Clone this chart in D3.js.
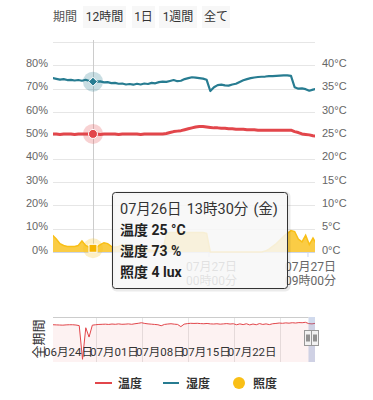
<!DOCTYPE html>
<html><head><meta charset="utf-8">
<script src="https://cdn.jsdelivr.net/npm/d3@7"></script>
<style>
html,body{margin:0;padding:0;background:#fff;}
svg{display:block;font-family:Roboto,"Noto Sans CJK JP",sans-serif;}
</style></head><body>
<svg id="c" width="373" height="400"></svg>
<script>
// ---------------- data ----------------
const rangeLabel = "期間";
const rangeButtons = ["12時間", "1日", "1週間", "全て"];
const navLabel = "全期間";
const seriesNames = ["温度", "湿度", "照度"];
const humidityTicks = [0, 10, 20, 30, 40, 50, 60, 70, 80, 90];
const tempTicks = [0, 5, 10, 15, 20, 25, 30, 35, 40, 45];
const weekdays = ["日", "月", "火", "水", "木", "金", "土"];

// 20-minute samples starting 2019-07-26 09:50
const temperature = [
  25.3,25.3,25.2,25.3,25.3,25.3,25.2,25.3,25.3,25.3,
  25.3,25.3,25.3,25.2,25.3,25.3,25.3,25.3,25.2,25.3,
  25.3,25.3,25.3,25.3,25.2,25.3,25.3,25.3,25.3,25.3,
  25.3,25.4,25.6,25.8,25.9,26.0,26.2,26.4,26.6,26.8,
  26.9,26.9,26.8,26.7,26.6,26.6,26.5,26.5,26.4,26.4,
  26.3,26.3,26.3,26.2,26.2,26.2,26.1,26.1,26.1,26.1,
  26.1,26.1,26.1,26.1,26.1,26.1,25.8,25.6,25.3,25.2,
  25.1,24.9,24.8
];
const humidity = [
  74.5,74.2,73.9,74.1,73.7,73.8,73.5,73.7,73.4,73.8,
  73.3,73.0,73.0,73.1,72.7,72.8,72.4,72.5,72.1,72.2,
  71.8,72.0,71.7,72.1,71.8,72.2,72.0,72.5,72.3,72.8,
  73.0,72.9,73.3,73.7,73.2,73.4,74.1,74.5,74.9,74.7,
  74.5,74.3,73.8,69.0,70.6,71.5,71.7,71.4,71.3,71.8,
  72.1,72.9,73.6,74.1,74.5,74.8,75.0,75.1,75.2,75.4,
  75.4,75.5,75.6,75.7,75.7,75.5,70.6,70.0,70.1,69.8,
  69.1,69.6,69.9
];
const illuminance = [
  18,14,9,7,6,6,6,7,12,7,
  5,4,5,8,10,9,6,5,6,8,
  7,5,6,5,4,5,3,2,1,1,
  0,20,21,21,21,21,21,21,21,21,
  21,21,20,0,0,0,0,0,0,0,
  0,0,0,0,0,0,0,0,1,3,
  6,9,13,17,20,23,22,14,11,18,
  8,15,8
];
// navigator: 12-hour samples starting 2019-06-17 10:40
const navTemperature = [
  24.6,24.5,24.4,24.3,24.5,24.6,24.6,24.4,24.0,0.5,
  22.5,16.0,24.3,24.6,24.8,24.9,25.0,24.8,25.1,24.9,
  25.2,24.9,25.0,25.2,24.9,25.3,25.6,26.0,25.5,25.2,
  25.0,24.8,24.6,23.9,24.8,25.1,25.3,25.0,24.8,23.3,
  25.0,25.4,25.6,25.5,25.6,25.4,25.3,25.5,25.2,25.1,
  25.3,25.0,25.2,25.4,25.1,25.3,24.6,25.2,24.7,25.3,
  24.5,25.1,24.6,25.4,24.8,25.2,24.7,25.3,25.5,25.8,
  25.6,25.9,25.7,26.0,25.8,26.1,26.0,26.3,25.4,25.2,
  25.6
];
const navTickDates = ["2019-06-24", "2019-07-01", "2019-07-08", "2019-07-15", "2019-07-22"];
const xTickTimes = ["2019-07-27T00:00", "2019-07-27T09:00"];
const hoverIndex = 11;

// ---------------- setup ----------------
const MIN = 60000;
const mainStart = new Date(2019, 6, 26, 9, 50);
const times = temperature.map((_, i) => new Date(+mainStart + i * 20 * MIN));
const navT0 = new Date(2019, 5, 17, 10, 40);
const navTimes = navTemperature.map((_, i) => new Date(+navT0 + i * 12 * 60 * MIN));

const colTemp = "#e2464b", colHum = "#277c91", colLux = "#f9bf16";
const L = 53, R = 315, TOP = 42, BOT = 252;

const svg = d3.select("#c");
const x = d3.scaleTime().domain([new Date(2019, 6, 26, 9, 52), new Date(2019, 6, 27, 9, 41)]).range([L, R]);
const yHum = d3.scaleLinear().domain([0, 90]).range([BOT, TOP]);
const yTemp = d3.scaleLinear().domain([0, 45]).range([BOT, TOP]);
const yLux = d3.scaleLinear().domain([0, 100]).range([BOT, 159]);

const defs = svg.append("defs");
defs.append("clipPath").attr("id", "plotClip").append("rect")
  .attr("x", L).attr("y", 20).attr("width", R - L).attr("height", BOT - 20 + 1);
defs.append("clipPath").attr("id", "navClip").append("rect")
  .attr("x", L).attr("y", 317).attr("width", R - L).attr("height", 45);

// ---------------- range selector ----------------
svg.append("text").attr("x", 53).attr("y", 21).attr("font-size", 12).attr("fill", "#555").text(rangeLabel);
const btnLayout = [[83, 43], [132, 23], [159, 38], [202, 28]];
rangeButtons.forEach((b, i) => {
  const [bx, bw] = btnLayout[i];
  svg.append("rect").attr("x", bx).attr("y", 6).attr("width", bw).attr("height", 22).attr("fill", "#f7f7f7");
  svg.append("text").attr("x", bx + bw / 2).attr("y", 21).attr("text-anchor", "middle")
    .attr("font-size", 12).attr("fill", "#333").text(b);
});

// ---------------- grid ----------------
const grid = svg.append("g");
grid.selectAll("line").data(humidityTicks).join("line")
  .attr("x1", L).attr("x2", R)
  .attr("y1", d => Math.round(yHum(d)) + 0.5).attr("y2", d => Math.round(yHum(d)) + 0.5)
  .attr("stroke", "#e6e6e6");

// left axis
const axL = svg.append("g").attr("transform", `translate(${L},0)`)
  .call(d3.axisLeft(yHum).tickValues(humidityTicks.slice(0, -1)).tickFormat(d => d + "%").tickSize(0).tickPadding(5));
axL.select(".domain").remove();
axL.selectAll("text").attr("font-size", 11).attr("fill", "#666").attr("font-family", null).attr("y", -2.5);

const axR = svg.append("g").attr("transform", `translate(${R},0)`)
  .call(d3.axisRight(yTemp).tickValues(tempTicks.slice(0, -1)).tickFormat(d => d + "°C").tickSize(0).tickPadding(7));
axR.select(".domain").remove();
axR.selectAll("text").attr("font-size", 11).attr("fill", "#666").attr("font-family", null).attr("y", -2.5);

// x axis line + ticks
const xTicks = xTickTimes.map(s => new Date(s));
const axB = svg.append("g").attr("transform", `translate(0,${BOT})`)
  .call(d3.axisBottom(x).tickValues(xTicks).tickSize(5).tickFormat(""));
axB.select(".domain").attr("stroke", "#ccd6eb").attr("d", `M${L},0.5H${R}`);
axB.selectAll(".tick line").attr("stroke", "#ccd6eb");

// x labels
const fmtD = d3.timeFormat("%m月%d日"), fmtT = d3.timeFormat("%H時%M分");
const xl = svg.append("g");
xTicks.forEach(t => {
  const tx = x(t) + 3;
  xl.append("text").attr("x", tx).attr("y", 271).attr("text-anchor", "middle").attr("font-size", 12).attr("fill", "#666").text(fmtD(t));
  xl.append("text").attr("x", tx).attr("y", 285).attr("text-anchor", "middle").attr("font-size", 12).attr("fill", "#666").text(fmtT(t));
});

// crosshair
const hx = x(times[hoverIndex]);
svg.append("line").attr("x1", Math.round(hx) + 0.5).attr("x2", Math.round(hx) + 0.5).attr("y1", 40).attr("y2", BOT)
  .attr("stroke", "#cccccc");

// ---------------- series ----------------
const plot = svg.append("g").attr("clip-path", "url(#plotClip)");
plot.append("path").datum(illuminance)
  .attr("d", d3.area().x((d, i) => x(times[i])).y0(BOT).y1(d => yLux(d)))
  .attr("fill", colLux).attr("fill-opacity", 0.8);
plot.append("path").datum(illuminance)
  .attr("d", d3.line().x((d, i) => x(times[i])).y(d => yLux(d)))
  .attr("fill", "none").attr("stroke", colLux).attr("stroke-width", 1.5);
plot.append("path").datum(humidity)
  .attr("d", d3.line().x((d, i) => x(times[i])).y(d => yHum(d)))
  .attr("fill", "none").attr("stroke", colHum).attr("stroke-width", 2.2).attr("stroke-linejoin", "round");
plot.append("path").datum(temperature)
  .attr("d", d3.line().x((d, i) => x(times[i])).y(d => yTemp(d)))
  .attr("fill", "none").attr("stroke", colTemp).attr("stroke-width", 3).attr("stroke-linejoin", "round");

// hover markers
const hyH = yHum(humidity[hoverIndex]), hyT = yTemp(temperature[hoverIndex]), hyL = yLux(illuminance[hoverIndex]);
svg.append("circle").attr("cx", hx).attr("cy", hyH).attr("r", 10).attr("fill", colHum).attr("fill-opacity", 0.25);
svg.append("path").attr("d", `M${hx},${hyH - 4.5}L${hx + 4.5},${hyH}L${hx},${hyH + 4.5}L${hx - 4.5},${hyH}Z`)
  .attr("fill", colHum).attr("stroke", "#fff").attr("stroke-width", 1);
svg.append("circle").attr("cx", hx).attr("cy", hyT).attr("r", 10).attr("fill", colTemp).attr("fill-opacity", 0.25);
svg.append("circle").attr("cx", hx).attr("cy", hyT).attr("r", 4.5).attr("fill", colTemp).attr("stroke", "#fff").attr("stroke-width", 1);
svg.append("circle").attr("cx", hx).attr("cy", hyL).attr("r", 10).attr("fill", colLux).attr("fill-opacity", 0.25);
svg.append("rect").attr("x", hx - 4).attr("y", hyL - 4).attr("width", 8).attr("height", 8)
  .attr("fill", "#f5b400").attr("stroke", "#fff").attr("stroke-width", 1);

// ---------------- navigator ----------------
const NT = 317, NB = 360;
const navX = d3.scaleTime().domain([navT0, x.domain()[1]]).range([L, R]);
const navY = d3.scaleLinear().domain([0, 30]).range([NB, NT]);
const nav = svg.append("g");
const navTicks = navTickDates.map(s => new Date(s + "T00:00"));
nav.selectAll("line.g").data(navTicks).join("line")
  .attr("x1", d => Math.round(navX(d)) + 0.5).attr("x2", d => Math.round(navX(d)) + 0.5)
  .attr("y1", NT).attr("y2", NB + 2).attr("stroke", "#e6e6e6");
const navPlot = nav.append("g").attr("clip-path", "url(#navClip)");
navPlot.append("path").datum(navTemperature)
  .attr("d", d3.area().x((d, i) => navX(navTimes[i])).y0(NB + 5).y1(d => navY(d)))
  .attr("fill", colTemp).attr("fill-opacity", 0.07);
navPlot.append("path").datum(navTemperature)
  .attr("d", d3.line().x((d, i) => navX(navTimes[i])).y(d => navY(d)))
  .attr("fill", "none").attr("stroke", colTemp).attr("stroke-width", 1);
const fmtNav = d3.timeFormat("%m月%d日");
nav.selectAll("text.n").data(navTicks).join("text")
  .attr("x", d => navX(d) - 3).attr("y", 356).attr("text-anchor", "end")
  .attr("font-size", 11.5).attr("fill", "#333").text(d => fmtNav(d));
const mL = navX(x.domain()[0]), mR = navX(x.domain()[1]);
nav.append("rect").attr("x", mL).attr("y", NT).attr("width", mR - mL).attr("height", NB - NT + 2)
  .attr("fill", "rgba(102,133,194,0.3)");
nav.append("path").attr("d", `M${L},${NT + 0.5}H${mL}M${mR},${NT + 0.5}H${R}`).attr("stroke", "#cccccc").attr("fill", "none");
[mL, mR].forEach(hxp => {
  const g = nav.append("g").attr("transform", `translate(${Math.round(hxp) - 3.5},330.5)`);
  g.append("rect").attr("width", 7).attr("height", 15).attr("fill", "#f2f2f2").attr("stroke", "#999");
  g.append("path").attr("d", "M2.5,4V11M4.5,4V11").attr("stroke", "#333");
});
svg.append("text").attr("transform", "translate(38,339) rotate(-90)").attr("text-anchor", "middle")
  .attr("dominant-baseline", "central").attr("font-size", 13).attr("fill", "#333").text(navLabel);

// ---------------- legend ----------------
const lg = svg.append("g").attr("font-size", 12).attr("font-weight", "bold").attr("fill", "#333");
lg.append("line").attr("x1", 95).attr("x2", 112).attr("y1", 383).attr("y2", 383).attr("stroke", colTemp).attr("stroke-width", 2);
lg.append("text").attr("x", 118).attr("y", 387.5).text(seriesNames[0]);
lg.append("line").attr("x1", 163).attr("x2", 179).attr("y1", 383).attr("y2", 383).attr("stroke", colHum).attr("stroke-width", 2);
lg.append("text").attr("x", 186).attr("y", 387.5).text(seriesNames[1]);
lg.append("circle").attr("cx", 239).attr("cy", 383).attr("r", 6).attr("fill", colLux);
lg.append("text").attr("x", 253).attr("y", 387.5).text(seriesNames[2]);

// ---------------- tooltip ----------------
const t0 = times[hoverIndex];
const tt = svg.append("g").attr("transform", "translate(112.5,192.5)");
tt.append("rect").attr("x", 1).attr("y", 1).attr("width", 175).attr("height", 96).attr("rx", 3)
  .attr("fill", "none").attr("stroke", "rgba(0,0,0,0.08)").attr("stroke-width", 4);
tt.append("rect").attr("width", 175).attr("height", 96).attr("rx", 3)
  .attr("fill", "rgba(247,247,247,0.85)").attr("stroke", "#333").attr("stroke-width", 1);
tt.append("text").attr("x", 7.5).attr("y", 21.5).attr("font-size", 14.5).attr("fill", "#333")
  .attr("word-spacing", 1.5)
  .text(`${fmtD(t0)} ${fmtT(t0)} (${weekdays[t0.getDay()]})`);
const ttLines = [
  `${seriesNames[0]} ${Math.round(temperature[hoverIndex])} °C`,
  `${seriesNames[1]} ${Math.round(humidity[hoverIndex])} %`,
  `${seriesNames[2]} ${Math.round(illuminance[hoverIndex])} lux`
];
ttLines.forEach((s, i) => {
  tt.append("text").attr("x", 7.5).attr("y", 42.5 + 21 * i).attr("font-size", 14)
    .attr("font-weight", "bold").attr("fill", "#222").text(s);
});
</script>
</body></html>
